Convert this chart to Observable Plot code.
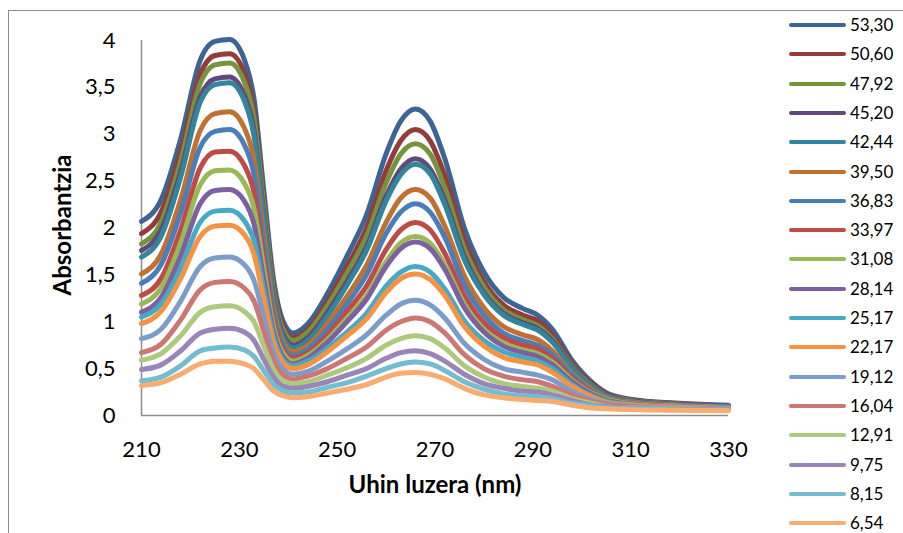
<!DOCTYPE html>
<html>
<head>
<meta charset="utf-8">
<script src="https://cdn.jsdelivr.net/npm/d3@7"></script>
<script src="https://cdn.jsdelivr.net/npm/@observablehq/plot@0.6"></script>
<style>
  html, body { margin: 0; padding: 0; background: #fff; }
  #wrap { position: relative; width: 903px; height: 533px; overflow: hidden; background: #fff; font-family: Lato, "Open Sans", sans-serif; }
  #frame { position: absolute; left: 8px; top: 10px; width: 1200px; height: 1200px; border-left: 1px solid #8c8c8c; border-top: 1px solid #8c8c8c; }
  #chart { position: absolute; left: 0; top: 0; }
  #legend { position: absolute; left: 789px; top: 0; }
  .item { position: absolute; left: 0; width: 120px; height: 20px; }
  .sw { position: absolute; left: 0; top: 8px; width: 57px; height: 4px; border-radius: 2px; }
  .lb { position: absolute; left: 61px; top: 0; font-size: 17px; line-height: 20px; color: #000; white-space: nowrap; }
</style>
</head>
<body>
<div id="wrap">
  <div id="frame"></div>
  <div id="chart"></div>
  <div id="legend"></div>
</div>
<script>
// Wavelengths (nm)
const wavelengths = [210, 214, 218, 222, 225, 228, 231, 233, 235, 237, 239, 241, 244, 248, 252, 256, 260, 263, 266, 269, 272, 276, 280, 284, 288, 291, 294, 298, 302, 306, 312, 320, 330];

// Series labels (legend order)
const labels = ["53,30", "50,60", "47,92", "45,20", "42,44", "39,50", "36,83", "33,97", "31,08", "28,14", "25,17", "22,17", "19,12", "16,04", "12,91", "9,75", "8,15", "6,54"];

// Absorbance values per series
const s5330 = [2.07, 2.30, 2.95, 3.79, 3.99, 4.01, 3.80, 3.38, 2.40, 1.45, 1.00, 0.88, 0.98, 1.30, 1.70, 2.14, 2.79, 3.14, 3.27, 3.14, 2.74, 2.00, 1.53, 1.26, 1.14, 1.07, 0.92, 0.59, 0.36, 0.22, 0.16, 0.13, 0.11];
const s5060 = [1.94, 2.17, 2.82, 3.64, 3.84, 3.86, 3.66, 3.25, 2.30, 1.38, 0.95, 0.83, 0.92, 1.22, 1.59, 2.00, 2.61, 2.93, 3.05, 2.93, 2.56, 1.87, 1.43, 1.18, 1.07, 1.01, 0.86, 0.56, 0.34, 0.21, 0.155, 0.125, 0.105];
const s4792 = [1.83, 2.06, 2.71, 3.54, 3.74, 3.76, 3.56, 3.17, 2.24, 1.34, 0.91, 0.80, 0.89, 1.17, 1.52, 1.91, 2.48, 2.79, 2.90, 2.79, 2.43, 1.78, 1.37, 1.13, 1.02, 0.96, 0.82, 0.53, 0.32, 0.20, 0.15, 0.12, 0.10];
const s4520 = [1.76, 1.98, 2.60, 3.40, 3.59, 3.61, 3.42, 3.04, 2.14, 1.27, 0.86, 0.75, 0.83, 1.10, 1.43, 1.80, 2.34, 2.63, 2.74, 2.63, 2.30, 1.70, 1.31, 1.09, 0.99, 0.93, 0.80, 0.52, 0.31, 0.20, 0.145, 0.12, 0.10];
const s4244 = [1.69, 1.91, 2.54, 3.34, 3.53, 3.55, 3.36, 2.98, 2.10, 1.24, 0.83, 0.72, 0.80, 1.06, 1.39, 1.76, 2.29, 2.57, 2.68, 2.58, 2.25, 1.66, 1.29, 1.07, 0.97, 0.91, 0.78, 0.51, 0.31, 0.19, 0.14, 0.115, 0.095];
const s3950 = [1.51, 1.72, 2.30, 3.04, 3.22, 3.24, 3.07, 2.73, 1.92, 1.15, 0.78, 0.68, 0.75, 0.98, 1.27, 1.60, 2.06, 2.32, 2.41, 2.32, 2.02, 1.49, 1.15, 0.95, 0.86, 0.81, 0.69, 0.45, 0.28, 0.18, 0.135, 0.11, 0.09];
const s3683 = [1.41, 1.61, 2.16, 2.86, 3.03, 3.05, 2.89, 2.57, 1.81, 1.08, 0.73, 0.64, 0.71, 0.92, 1.19, 1.50, 1.94, 2.17, 2.26, 2.17, 1.90, 1.39, 1.07, 0.88, 0.80, 0.75, 0.65, 0.43, 0.26, 0.17, 0.13, 0.105, 0.09];
const s3397 = [1.28, 1.46, 1.98, 2.64, 2.81, 2.82, 2.67, 2.38, 1.68, 1.01, 0.69, 0.61, 0.67, 0.86, 1.11, 1.38, 1.77, 1.98, 2.06, 1.98, 1.73, 1.28, 0.99, 0.83, 0.75, 0.71, 0.61, 0.40, 0.25, 0.16, 0.125, 0.10, 0.085];
const s3108 = [1.19, 1.36, 1.84, 2.46, 2.61, 2.62, 2.48, 2.21, 1.57, 0.95, 0.66, 0.58, 0.64, 0.81, 1.04, 1.28, 1.64, 1.84, 1.91, 1.84, 1.61, 1.19, 0.92, 0.77, 0.70, 0.66, 0.57, 0.38, 0.24, 0.16, 0.12, 0.10, 0.085];
const s2814 = [1.10, 1.26, 1.70, 2.26, 2.40, 2.41, 2.29, 2.04, 1.45, 0.89, 0.62, 0.55, 0.61, 0.78, 1.00, 1.24, 1.59, 1.78, 1.85, 1.78, 1.56, 1.15, 0.89, 0.74, 0.67, 0.63, 0.54, 0.36, 0.23, 0.15, 0.115, 0.095, 0.08];
const s2517 = [1.05, 1.19, 1.57, 2.06, 2.18, 2.19, 2.08, 1.86, 1.34, 0.83, 0.59, 0.53, 0.58, 0.72, 0.89, 1.09, 1.38, 1.53, 1.59, 1.53, 1.35, 1.01, 0.80, 0.68, 0.62, 0.58, 0.50, 0.33, 0.21, 0.14, 0.11, 0.09, 0.08];
const s2217 = [0.98, 1.11, 1.46, 1.91, 2.02, 2.03, 1.93, 1.72, 1.24, 0.78, 0.56, 0.50, 0.54, 0.68, 0.85, 1.03, 1.31, 1.46, 1.51, 1.45, 1.28, 0.95, 0.74, 0.62, 0.57, 0.54, 0.46, 0.31, 0.20, 0.13, 0.105, 0.09, 0.075];
const s1912 = [0.82, 0.92, 1.22, 1.59, 1.68, 1.69, 1.61, 1.44, 1.05, 0.67, 0.49, 0.44, 0.47, 0.58, 0.71, 0.86, 1.07, 1.19, 1.23, 1.18, 1.04, 0.77, 0.60, 0.50, 0.46, 0.43, 0.38, 0.26, 0.17, 0.12, 0.095, 0.08, 0.07];
const s1604 = [0.67, 0.76, 1.02, 1.34, 1.42, 1.43, 1.36, 1.22, 0.90, 0.58, 0.43, 0.39, 0.42, 0.50, 0.61, 0.73, 0.91, 1.00, 1.04, 1.00, 0.88, 0.65, 0.50, 0.42, 0.38, 0.36, 0.31, 0.22, 0.15, 0.11, 0.09, 0.075, 0.065];
const s1291 = [0.59, 0.66, 0.85, 1.10, 1.16, 1.17, 1.11, 1.00, 0.74, 0.49, 0.37, 0.34, 0.36, 0.43, 0.51, 0.61, 0.75, 0.82, 0.85, 0.82, 0.72, 0.53, 0.41, 0.34, 0.31, 0.29, 0.26, 0.18, 0.13, 0.09, 0.08, 0.07, 0.06];
const s975 = [0.49, 0.54, 0.69, 0.88, 0.92, 0.93, 0.89, 0.80, 0.60, 0.41, 0.31, 0.29, 0.31, 0.36, 0.43, 0.50, 0.61, 0.67, 0.69, 0.66, 0.58, 0.44, 0.34, 0.29, 0.26, 0.25, 0.22, 0.16, 0.11, 0.09, 0.075, 0.065, 0.06];
const s815 = [0.37, 0.41, 0.53, 0.69, 0.72, 0.73, 0.70, 0.63, 0.48, 0.33, 0.26, 0.24, 0.25, 0.30, 0.35, 0.42, 0.50, 0.55, 0.57, 0.55, 0.48, 0.36, 0.28, 0.23, 0.21, 0.20, 0.18, 0.13, 0.10, 0.08, 0.07, 0.06, 0.055];
const s654 = [0.32, 0.35, 0.44, 0.55, 0.58, 0.58, 0.55, 0.50, 0.38, 0.26, 0.21, 0.19, 0.20, 0.24, 0.28, 0.33, 0.41, 0.45, 0.46, 0.44, 0.39, 0.29, 0.22, 0.19, 0.17, 0.16, 0.15, 0.11, 0.08, 0.07, 0.06, 0.055, 0.05];

const seriesValues = [s5330, s5060, s4792, s4520, s4244, s3950, s3683, s3397, s3108, s2814, s2517, s2217, s1912, s1604, s1291, s975, s815, s654];

// Axis ticks
const xTicks = [210, 230, 250, 270, 290, 310, 330];
const yTicks = [0, 0.5, 1, 1.5, 2, 2.5, 3, 3.5, 4];

// Colours
const colors = ["#3c6494", "#953c3b", "#77933c", "#604a7b", "#31859c", "#c1712f",
                "#4a7ebb", "#be4b48", "#98b954", "#7d60a0", "#46aac5", "#f69240",
                "#7b9dcc", "#cd7775", "#adc97c", "#9a86b6", "#74bdd1", "#f8ac6f"];

const rows = labels.flatMap((lab, i) => wavelengths.map((w, j) => ({series: lab, w, a: seriesValues[i][j]})));

const chart = Plot.plot({
  width: 903,
  height: 533,
  marginLeft: 141,
  marginRight: 175,
  marginTop: 40,
  marginBottom: 118,
  x: {domain: [210, 330]},
  y: {domain: [0, 4]},
  color: {domain: labels, range: colors},
  style: {fontFamily: "Lato, 'Open Sans', sans-serif", fontSize: "22px", color: "#000", background: "transparent", overflow: "visible"},
  marks: [
    Plot.ruleX([210], {stroke: "#8c8c8c", strokeWidth: 1.5}),
    Plot.ruleY([0], {stroke: "#8c8c8c", strokeWidth: 1.5}),
    Plot.line(rows, {x: "w", y: "a", z: "series", stroke: "series", strokeWidth: 5, curve: "monotone-x", strokeLinejoin: "round", strokeLinecap: "round"}),
    Plot.axisX({ticks: xTicks, tickSize: 0, tickPadding: 26, tickFormat: d => String(d), label: null, fontSize: 22}),
    Plot.axisY({ticks: yTicks, tickSize: 0, tickPadding: 26, tickFormat: d => String(d).replace(".", ","), label: null, fontSize: 22}),
    Plot.text(["Uhin luzera (nm)"], {frameAnchor: "bottom", dy: 77, textAnchor: "middle", fontWeight: "bold", fontSize: 24, fill: "#000", letterSpacing: "0.8px"}),
    Plot.text(["Absorbantzia"], {frameAnchor: "left", dx: -78, dy: -3, textAnchor: "middle", rotate: -90, fontWeight: "bold", fontSize: 24, fill: "#000", letterSpacing: "0.8px"})
  ]
});
document.getElementById("chart").appendChild(chart);

// Legend
const legend = document.getElementById("legend");
labels.forEach((lab, i) => {
  const item = document.createElement("div");
  item.className = "item";
  item.style.top = (15 + i * 29.3) + "px";
  const sw = document.createElement("div");
  sw.className = "sw";
  sw.style.background = colors[i];
  const lb = document.createElement("div");
  lb.className = "lb";
  lb.textContent = lab;
  item.appendChild(sw);
  item.appendChild(lb);
  legend.appendChild(item);
});
</script>
</body>
</html>
